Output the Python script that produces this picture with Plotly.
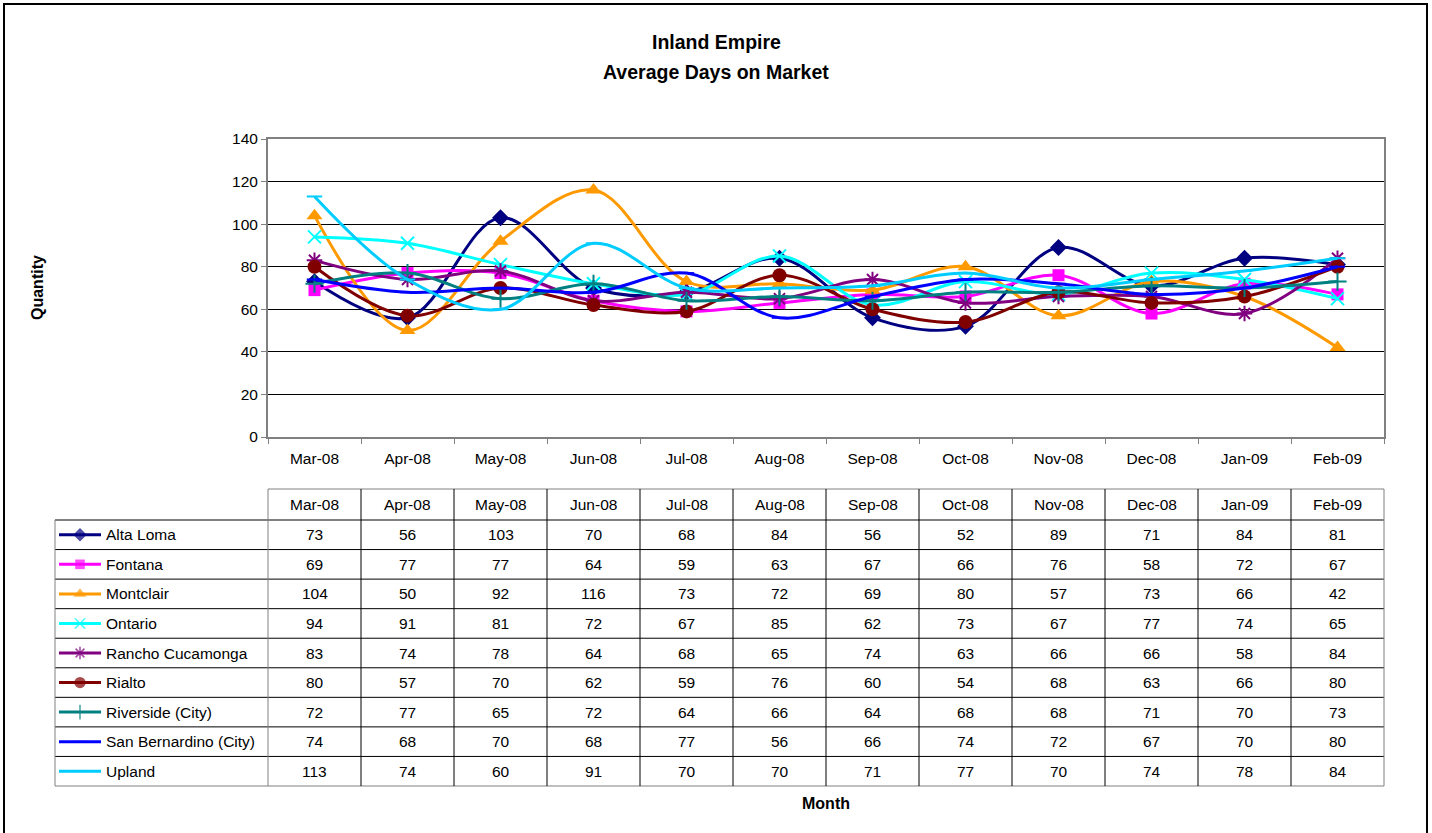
import plotly.graph_objects as go

W, H = 1432, 833

months = ["Mar-08", "Apr-08", "May-08", "Jun-08", "Jul-08", "Aug-08",
          "Sep-08", "Oct-08", "Nov-08", "Dec-08", "Jan-09", "Feb-09"]

alta_loma = [73, 56, 103, 70, 68, 84, 56, 52, 89, 71, 84, 81]
fontana = [69, 77, 77, 64, 59, 63, 67, 66, 76, 58, 72, 67]
montclair = [104, 50, 92, 116, 73, 72, 69, 80, 57, 73, 66, 42]
ontario = [94, 91, 81, 72, 67, 85, 62, 73, 67, 77, 74, 65]
rancho = [83, 74, 78, 64, 68, 65, 74, 63, 66, 66, 58, 84]
rialto = [80, 57, 70, 62, 59, 76, 60, 54, 68, 63, 66, 80]
riverside = [72, 77, 65, 72, 64, 66, 64, 68, 68, 71, 70, 73]
san_bern = [74, 68, 70, 68, 77, 56, 66, 74, 72, 67, 70, 80]
upland = [113, 74, 60, 91, 70, 70, 71, 77, 70, 74, 78, 84]

series_names = ["Alta Loma", "Fontana", "Montclair", "Ontario", "Rancho Cucamonga",
                "Rialto", "Riverside (City)", "San Bernardino (City)", "Upland"]
series_values = [alta_loma, fontana, montclair, ontario, rancho, rialto,
                 riverside, san_bern, upland]

colors = ["#000080", "#FF00FF", "#FF9900", "#00FFFF", "#800080",
          "#800000", "#008080", "#0000FF", "#00CCFF"]
symbols = ["diamond", "square", "triangle-up", "x-thin-open", "asterisk-open",
           "circle", "cross-thin-open", "line-ew-open", "line-ew-open"]
msizes = [13, 12, 14, 13, 13, 14, 13, 11, 11]

FONT = "Liberation Sans, Arial, sans-serif"
FS = 15.5


def px_x(p):
    return p / W


def px_y(p):
    return 1 - p / H


PL, PR, PT, PB = 268, 1384, 139, 437
TL = 55
T_HEAD_TOP = 489
T_TOP = 520
T_BOT = 786
ROW_H = (T_BOT - T_TOP) / len(series_names)

fig = go.Figure()

for name, vals, c, s, ms in zip(series_names, series_values, colors, symbols, msizes):
    open_sym = s.endswith("-open")
    fig.add_trace(go.Scatter(
        x=months, y=vals, name=name, mode="lines+markers",
        line=dict(color=c, width=3, shape="spline", smoothing=1.0),
        marker=dict(symbol=s, size=ms, color=c,
                    line=dict(color=c, width=2 if open_sym else 0)),
        showlegend=False, xaxis="x", yaxis="y", cliponaxis=False,
    ))

for i, (name, c, s, ms) in enumerate(zip(series_names, colors, symbols, msizes)):
    yc = T_TOP + ROW_H * (i + 0.5)
    open_sym = s.endswith("-open")
    fig.add_trace(go.Scatter(
        x=[59, 80, 101], y=[yc, yc, yc], mode="lines+markers",
        line=dict(color=c, width=3),
        marker=dict(symbol=s, size=[0, ms * 0.8, 0], color=c,
                    line=dict(color=c, width=1.6 if open_sym else 0)),
        showlegend=False, xaxis="x2", yaxis="y2", hoverinfo="skip",
    ))

shapes = []
annotations = []

shapes.append(dict(type="rect", xref="paper", yref="paper",
                   x0=px_x(4), x1=px_x(1427), y0=px_y(836), y1=px_y(4),
                   line=dict(color="black", width=2)))

col_w = (PR - PL) / len(months)
inner = dict(color="black", width=1)
outer = dict(color="#808080", width=1)
shapes.append(dict(type="line", xref="paper", yref="paper",
                   x0=px_x(PL), x1=px_x(PR), y0=px_y(T_HEAD_TOP), y1=px_y(T_HEAD_TOP), line=outer))
for k in range(len(series_names) + 1):
    yy = T_TOP + ROW_H * k
    shapes.append(dict(type="line", xref="paper", yref="paper",
                       x0=px_x(TL), x1=px_x(PR), y0=px_y(yy), y1=px_y(yy),
                       line=outer if k == len(series_names) else inner))
shapes.append(dict(type="line", xref="paper", yref="paper",
                   x0=px_x(TL), x1=px_x(TL), y0=px_y(T_TOP), y1=px_y(T_BOT), line=outer))
for k in range(len(months) + 1):
    xx = PL + col_w * k
    shapes.append(dict(type="line", xref="paper", yref="paper",
                       x0=px_x(xx), x1=px_x(xx), y0=px_y(T_HEAD_TOP), y1=px_y(T_BOT),
                       line=outer if k in (0, len(months)) else inner))

tfont = dict(family=FONT, size=FS, color="black")
for m in months:
    annotations.append(dict(x=m, xref="x", y=px_y((T_HEAD_TOP + T_TOP) / 2), yref="paper",
                            text=m, showarrow=False, xanchor="center", yanchor="middle",
                            font=tfont))
for i, (name, vals) in enumerate(zip(series_names, series_values)):
    yc = px_y(T_TOP + ROW_H * (i + 0.5))
    annotations.append(dict(x=px_x(104), xref="paper", y=yc, yref="paper", text=name,
                            showarrow=False, xanchor="left", yanchor="middle",
                            font=tfont))
    for m, v in zip(months, vals):
        annotations.append(dict(x=m, xref="x", y=yc, yref="paper", text=str(v),
                                showarrow=False, xanchor="center", yanchor="middle",
                                font=tfont))

annotations.append(dict(x=px_x(716), y=px_y(42), xref="paper", yref="paper",
                        text="<b>Inland Empire</b>", showarrow=False,
                        xanchor="center", yanchor="middle",
                        font=dict(family=FONT, size=19.5, color="black")))
annotations.append(dict(x=px_x(716), y=px_y(72), xref="paper", yref="paper",
                        text="<b>Average Days on Market</b>", showarrow=False,
                        xanchor="center", yanchor="middle",
                        font=dict(family=FONT, size=19.5, color="black")))
annotations.append(dict(x=px_x(37), y=px_y(288), xref="paper", yref="paper",
                        text="<b>Quantity</b>", showarrow=False, textangle=-90,
                        xanchor="center", yanchor="middle",
                        font=dict(family=FONT, size=16, color="black")))
annotations.append(dict(x=px_x(826), y=px_y(803), xref="paper", yref="paper",
                        text="<b>Month</b>", showarrow=False,
                        xanchor="center", yanchor="middle",
                        font=dict(family=FONT, size=16, color="black")))

fig.update_layout(
    width=W, height=H,
    margin=dict(l=0, r=0, t=0, b=0),
    paper_bgcolor="white", plot_bgcolor="white",
    font=dict(family=FONT, size=FS, color="black"),
    xaxis=dict(
        domain=[px_x(PL), px_x(PR)], type="category", categoryorder="array",
        categoryarray=months, range=[-0.5, len(months) - 0.5],
        tickson="boundaries", ticks="outside", ticklen=5, tickcolor="#808080",
        showline=True, linecolor="#808080", linewidth=2, mirror=True,
        showgrid=False, zeroline=False, ticklabelstandoff=6, automargin=False,
        tickfont=tfont, fixedrange=True, anchor="y",
    ),
    yaxis=dict(
        domain=[px_y(PB), px_y(PT)], range=[0, 140], dtick=20, tick0=0,
        ticks="outside", ticklen=5, tickcolor="#808080",
        showline=True, linecolor="#808080", linewidth=2, mirror=True,
        showgrid=True, gridcolor="black", gridwidth=1, zeroline=False, automargin=False,
        tickfont=tfont, fixedrange=True, anchor="x",
    ),
    xaxis2=dict(domain=[px_x(TL), px_x(PL)], range=[TL, PL], visible=False,
                fixedrange=True, anchor="y2"),
    yaxis2=dict(domain=[px_y(T_BOT), px_y(T_TOP)], range=[T_BOT, T_TOP], visible=False,
                fixedrange=True, anchor="x2"),
    shapes=shapes,
    annotations=annotations,
)

page_fix = (
    "document.body.style.margin='0';document.body.style.padding='0';"
    "document.documentElement.style.overflow='hidden';"
)

fig.write_html("out.html", config={"displayModeBar": False}, post_script=page_fix)
